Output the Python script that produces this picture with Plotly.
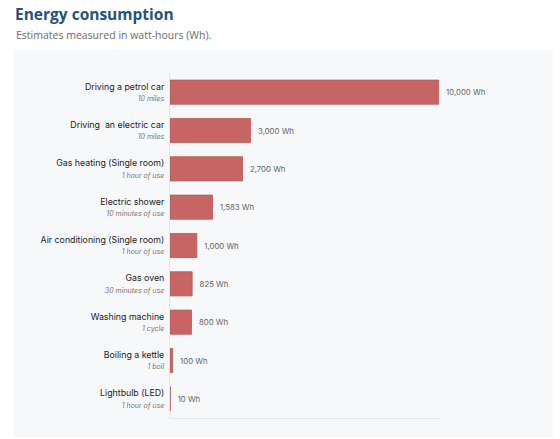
import plotly.graph_objects as go

# data
activities = ["Driving a petrol car", "Driving  an electric car", "Gas heating (Single room)",
              "Electric shower", "Air conditioning (Single room)", "Gas oven",
              "Washing machine", "Boiling a kettle", "Lightbulb (LED)"]
durations = ["10 miles", "10 miles", "1 hour of use", "10 minutes of use", "1 hour of use",
             "30 minutes of use", "1 cycle", "1 boil", "1 hour of use"]
watt_hours = [10000, 3000, 2700, 1583, 1000, 825, 800, 100, 10]

tick_text = [f"{a}<br><span style='font-size:7px;color:#777'><i>{d}</i></span>"
             for a, d in zip(activities, durations)]

fig = go.Figure()
fig.add_trace(go.Bar(
    x=watt_hours,
    y=activities,
    orientation="h",
    marker=dict(color="#c66563", line=dict(color="#b45a58", width=0.8)),
    width=0.63,
    text=[f"  {v:,} Wh" for v in watt_hours],
    textposition="outside",
    constraintext="none",
    textfont=dict(size=7.8, color="#666666", family="Inter"),
    cliponaxis=False,
    hoverinfo="skip",
))

# body margin is removed below, so figure coords = page coords
W, H = 560, 439
L, R, T, B = 170, 120, 73, 21
pw, ph = W - L - R, H - T - B

def px(x):
    return (x - L) / pw

def py(y):
    return (H - B - y) / ph

fig.update_layout(
    width=W, height=H,
    margin=dict(l=L, r=R, t=T, b=B),
    paper_bgcolor="white",
    plot_bgcolor="rgba(0,0,0,0)",
    showlegend=False,
    font=dict(family="Inter", color="#222222", size=8.8),
    xaxis=dict(range=[0, 10050], showticklabels=False, showgrid=False, zeroline=False,
               showline=True, linecolor="#e6e6e6", linewidth=1, fixedrange=True),
    yaxis=dict(tickmode="array", tickvals=activities, ticktext=tick_text,
               autorange="reversed", showgrid=False, zeroline=False, ticks="",
               showline=True, linecolor="#e6e6e6", linewidth=1,
               ticklabelstandoff=3),
    shapes=[dict(type="rect", xref="paper", yref="paper", layer="below",
                 x0=px(14), x1=px(553), y0=py(437), y1=py(50),
                 fillcolor="#f7f8f9", line=dict(width=0))],
    annotations=[
        dict(text="<b>Energy consumption</b>", xref="paper", yref="paper",
             x=px(14), y=py(14), xanchor="left", yanchor="middle", showarrow=False,
             borderpad=0, font=dict(family="Open Sans", size=15.5, color="#27527a")),
        dict(text="Estimates measured in watt-hours (Wh).", xref="paper", yref="paper",
             x=px(14), y=py(35), xanchor="left", yanchor="middle", showarrow=False,
             font=dict(family="Open Sans", size=10.5, color="#6b6b6b")),
    ],
)

fig.write_html("out.html", config={"displayModeBar": False},
               post_script="document.body.style.margin='0';")
